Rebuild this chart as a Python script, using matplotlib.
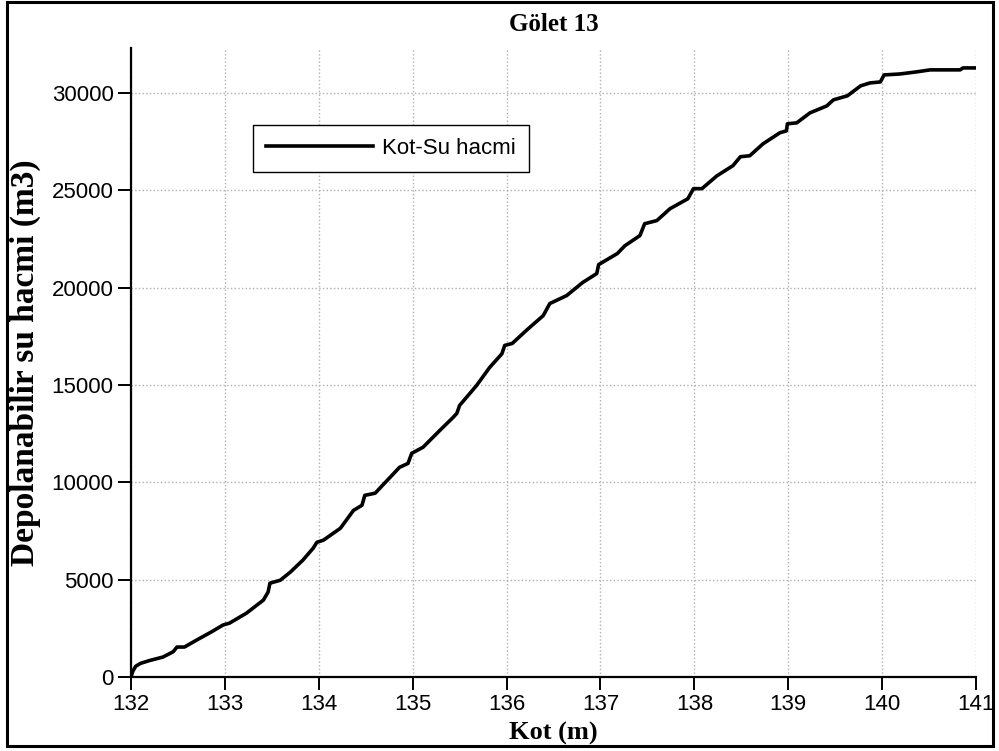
import matplotlib
matplotlib.use("Agg")
import matplotlib.pyplot as plt
from matplotlib.patches import Rectangle

# Kot (m) and storable water volume (m3)
kot = [132.00, 132.02, 132.05, 132.10, 132.20, 132.34, 132.45, 132.49, 132.57,
       132.70, 132.85, 132.98, 133.05, 133.23, 133.41, 133.46, 133.48, 133.59,
       133.70, 133.83, 133.94, 133.98, 134.05, 134.23, 134.37, 134.46, 134.49,
       134.60, 134.86, 134.95, 134.99, 135.11, 135.29, 135.43, 135.47, 135.50,
       135.68, 135.82, 135.95, 135.98, 136.06, 136.21, 136.39, 136.46, 136.64,
       136.81, 136.96, 136.98, 137.18, 137.26, 137.42, 137.47, 137.60, 137.74,
       137.93, 137.99, 138.08, 138.24, 138.41, 138.49, 138.59, 138.73, 138.91,
       138.98, 138.99, 139.09, 139.23, 139.41, 139.48, 139.63, 139.77, 139.87,
       139.98, 140.02, 140.19, 140.37, 140.51, 140.83, 140.86, 141.00]
hacim = [0, 300, 550, 700, 850, 1025, 1300, 1540, 1540,
         1900, 2300, 2670, 2770, 3280, 3950, 4360, 4820, 4970,
         5400, 6000, 6615, 6920, 7030, 7640, 8560, 8820, 9330,
         9440, 10770, 10970, 11490, 11800, 12670, 13330, 13540, 13950,
         14970, 15900, 16600, 17030, 17130, 17800, 18560, 19180, 19590,
         20260, 20720, 21180, 21750, 22150, 22670, 23280, 23440, 24050,
         24560, 25080, 25080, 25740, 26260, 26720, 26770, 27380, 27950,
         28050, 28410, 28460, 28970, 29330, 29640, 29850, 30360, 30510,
         30560, 30920, 30970, 31080, 31180, 31180, 31280, 31280]

xticks = list(range(132, 142))
yticks = [0, 5000, 10000, 15000, 20000, 25000, 30000]

fig = plt.figure(figsize=(9.99, 7.51), dpi=100)
ax = fig.add_axes([0.1311, 0.0985, 0.8460, 0.8375])

ax.plot(kot, hacim, color='black', lw=2.6, label='Kot-Su hacmi')
ax.set_xlim(132, 141)
ax.set_ylim(0, 32300)
ax.set_xticks(xticks)
ax.set_yticks(yticks)
ax.grid(True, color='#b0b0b0', linestyle=':', linewidth=1.0)

for side in ['top', 'right']:
    ax.spines[side].set_visible(False)
for side in ['left', 'bottom']:
    ax.spines[side].set_linewidth(1.6)
ax.tick_params(direction='out', length=9.5, width=1.4, labelsize=16, pad=3)
for lab in ax.get_xticklabels() + ax.get_yticklabels():
    lab.set_fontfamily('Liberation Sans')

serif = dict(family='Liberation Serif', weight='bold')
ax.set_title('Gölet 13', fontsize=18, pad=12, **serif)
ax.set_xlabel('Kot (m)', fontsize=19, labelpad=5, **serif)
ax.set_ylabel('Depolanabilir su hacmi (m3)', fontsize=24, **serif)
ax.yaxis.set_label_coords(-0.106, 0.5)

leg = ax.legend(loc='upper left', bbox_to_anchor=(0.144, 0.878),
                prop={'family': 'Liberation Sans', 'size': 16},
                fancybox=False, edgecolor='black', framealpha=1,
                handlelength=4.8, handletextpad=0.4, borderpad=0.6,
                borderaxespad=0)
leg.get_frame().set_linewidth(1.0)

# border around the whole figure
fig.patches.append(Rectangle((7 / 999, 5 / 751), 986 / 999, 744 / 751,
                             transform=fig.transFigure, fill=False,
                             edgecolor='black', linewidth=2.2))

fig.savefig('out.png', dpi=100)
